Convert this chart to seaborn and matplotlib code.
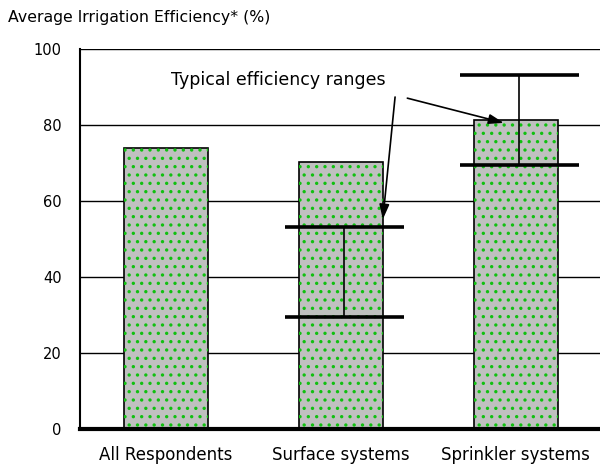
import numpy as np
import pandas as pd
import seaborn as sns
import matplotlib.pyplot as plt
from matplotlib.ticker import MultipleLocator

# values
categories = ["All Respondents", "Surface systems", "Sprinkler systems"]
efficiency = [74, 70.3, 81.3]

# typical efficiency ranges (low / high) for the two system types
range_categories = ["Surface systems", "Sprinkler systems"]
range_low = [29.5, 69.5]
range_high = [53.2, 93.2]

df = pd.DataFrame({"category": categories, "efficiency": efficiency})

sns.set_style("white")
plt.rcParams["font.family"] = ["DejaVu Sans"]
plt.rcParams["text.color"] = "black"
plt.rcParams["xtick.color"] = "black"
plt.rcParams["ytick.color"] = "black"
plt.rcParams["hatch.linewidth"] = 1.2

fig = plt.figure(figsize=(6, 4.68), dpi=100)
ax = fig.add_axes([0.133, 0.083, 0.867, 0.812])

# grey bars with black outline
sns.barplot(data=df, x="category", y="efficiency", order=categories,
            color="#c0c0c0", saturation=1, width=0.48,
            edgecolor="black", linewidth=1.2, ax=ax, zorder=2)
# green dot pattern on top
sns.barplot(data=df, x="category", y="efficiency", order=categories,
            fill=False, width=0.48, linewidth=0, hatch="..",
            edgecolor="#11c011", ax=ax, zorder=3)
for p in ax.patches[len(categories):]:
    p.set_edgecolor("#11c011")
    p.set_linewidth(0)

# range markers
pos = [categories.index(c) + 0.02 for c in range_categories]
ax.hlines(range_low, [p - 0.34 for p in pos], [p + 0.34 for p in pos],
          color="black", linewidth=2.6, zorder=4)
ax.hlines(range_high, [p - 0.34 for p in pos], [p + 0.34 for p in pos],
          color="black", linewidth=2.6, zorder=4)
ax.vlines(pos, range_low, range_high, color="black", linewidth=1.2, zorder=4)

# annotation with two arrows
ax.text(0.645, 91.8, "Typical efficiency ranges", ha="center", va="center",
        fontsize=12.5)
ax.annotate("", xy=(1.24, 55.2), xytext=(1.31, 87.4),
            arrowprops=dict(arrowstyle="-|>,head_length=0.9,head_width=0.3",
                            color="black", lw=1.2, shrinkA=0, shrinkB=0),
            zorder=5)
ax.annotate("", xy=(1.93, 80.6), xytext=(1.38, 87.1),
            arrowprops=dict(arrowstyle="-|>,head_length=0.9,head_width=0.3",
                            color="black", lw=1.2, shrinkA=0, shrinkB=0),
            zorder=5)

ax.set_ylim(0, 100)
ax.set_xlim(-0.49, 2.48)
ax.yaxis.set_major_locator(MultipleLocator(20))
ax.yaxis.set_minor_locator(MultipleLocator(10))
ax.grid(axis="y", color="black", linewidth=1.0, zorder=0)
ax.set_axisbelow(True)

for s in ["top", "right"]:
    ax.spines[s].set_visible(False)
ax.spines["left"].set_linewidth(1.5)
ax.spines["bottom"].set_linewidth(3)
ax.spines["left"].set_color("black")
ax.spines["bottom"].set_color("black")

ax.tick_params(axis="y", which="both", direction="in", length=3, width=1,
               color="black", labelsize=10.5, pad=13)
ax.tick_params(axis="x", direction="in", length=5, width=1.5, color="black",
               labelsize=12, pad=12)
ax.set_xlabel("")
ax.set_ylabel("")

fig.text(0.013, 0.962, "Average Irrigation Efficiency* (%)", fontsize=11.3,
         ha="left", va="center")

fig.savefig("out.png", dpi=100)
